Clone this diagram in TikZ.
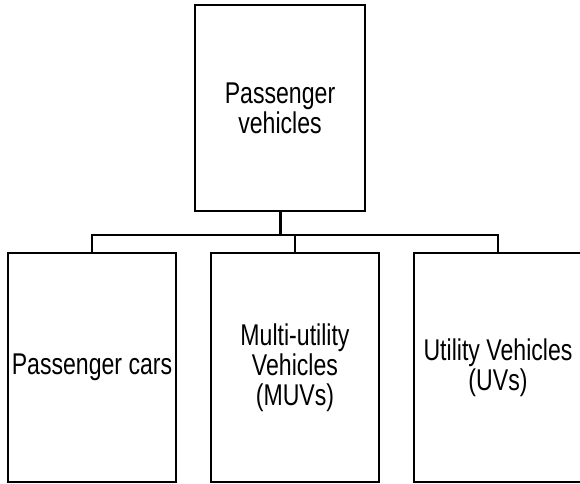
\documentclass[tikz,border=0pt]{standalone}
\usepackage{fontspec}
\setmainfont[FakeStretch=0.77]{Liberation Sans}
\usepackage{tikz}
\usetikzlibrary{positioning}

\tikzset{
  catbox/.style={draw,line width=2pt,align=center,font=\fontsize{30}{30}\selectfont,inner sep=0pt},
  topbox/.style={catbox,minimum width=170pt,minimum height=206pt},
  subbox/.style={catbox,minimum width=168pt,minimum height=229pt},
  link/.style={line width=2pt}
}

\begin{document}
\begin{tikzpicture}[x=1pt,y=-1pt]
  \useasboundingbox (0,0) rectangle (580,483);
  % parent
  \node[topbox] (pv) at (280,108){Passenger\\vehicles};
  % children
  \node[subbox] (cars) at (92,367.5){Passenger cars};
  \node[subbox] (muv) at (295,367.5){Multi-utility\\Vehicles\\(MUVs)};
  \node[subbox] (uv) at (498,367.5){Utility Vehicles\\(UVs)};
  % bus
  \coordinate (bus) at (280,235);
  \draw[line width=3pt] (pv.south)--(bus);
  \draw[link] (cars.north)|-(bus)-|(uv.north);
  \draw[link] (muv.north)--(muv.north|-bus);
\end{tikzpicture}
\end{document}
